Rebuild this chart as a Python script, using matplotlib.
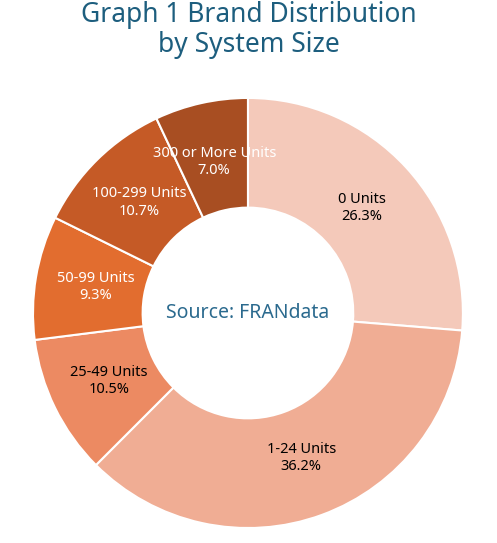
import matplotlib
matplotlib.use("Agg")
import matplotlib.pyplot as plt

# data
categories = ["0 Units", "1-24 Units", "25-49 Units", "50-99 Units", "100-299 Units", "300 or More Units"]
shares = [26.3, 36.2, 10.5, 9.3, 10.7, 7.0]
colors = ["#F4C9BA", "#F0AD94", "#EC8A62", "#E26D2F", "#C55A26", "#A84E22"]
text_colors = ["black", "black", "black", "white", "white", "white"]

plt.rcParams['font.family'] = ['Noto Sans', 'DejaVu Sans']

fig = plt.figure(figsize=(4.97, 5.43), dpi=100)
fig.text(0.5, 0.945, "Graph 1 Brand Distribution\nby System Size", ha="center", va="center",
         fontsize=19, fontweight="bold", color="#1D5E7E", linespacing=1.1)

ax = fig.add_axes([0.0664, 0.0276, 0.865, 0.792])
wedges, _ = ax.pie(shares, colors=colors, startangle=90, counterclock=False, radius=1,
                   wedgeprops=dict(width=0.51, edgecolor="white", linewidth=1.5))

import numpy as np
for w, cat, val, tc in zip(wedges, categories, shares, text_colors):
    ang = np.deg2rad((w.theta1 + w.theta2) / 2)
    r = 0.72
    ax.text(r * np.cos(ang), r * np.sin(ang), f"{cat}\n{val:.1f}%", ha="center", va="center",
            fontsize=10.5, color=tc, fontweight="bold" if cat == "1-24 Units" else "normal")

ax.text(0, 0, "Source: FRANdata", ha="center", va="center", fontsize=14, color="#2B6A8E")
ax.set_xlim(-1, 1)
ax.set_ylim(-1, 1)
ax.set_aspect("auto")
fig.savefig("out.png", dpi=100)
